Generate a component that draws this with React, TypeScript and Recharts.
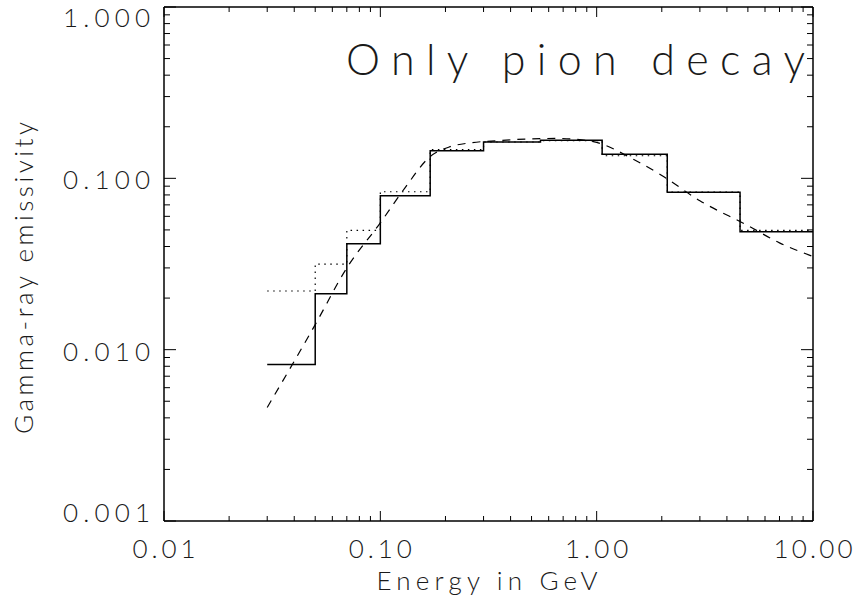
import React from "react";
import { LineChart, Line, XAxis, YAxis } from "recharts";

// bin edges in GeV (shared by both histograms)
const binEdges = [0.03, 0.05, 0.07, 0.1, 0.17, 0.3, 0.55, 1.06, 2.12, 4.6, 10];
// emissivity per bin
const solidValues = [0.0082, 0.0212, 0.0415, 0.079, 0.145, 0.163, 0.167, 0.138, 0.083, 0.0487];
const dottedValues = [0.022, 0.0316, 0.0497, 0.0835, 0.147, 0.163, 0.166, 0.1355, 0.0832, 0.0497];

// model curve (dashed)
const curveEnergy = [0.03, 0.05, 0.07, 0.1, 0.13, 0.17, 0.21, 0.26, 0.35, 0.5, 0.65, 0.8, 1.0, 1.5, 2.0, 3.0, 5.0, 7.0, 10];
const curveValues = [0.0046, 0.014, 0.03, 0.055, 0.088, 0.134, 0.153, 0.161, 0.166, 0.17, 0.171, 0.169, 0.162, 0.128, 0.104, 0.074, 0.053, 0.042, 0.035];

const xTicks = [
  0.01, 0.02, 0.03, 0.04, 0.05, 0.06, 0.07, 0.08, 0.09,
  0.1, 0.2, 0.3, 0.4, 0.5, 0.6, 0.7, 0.8, 0.9,
  1, 2, 3, 4, 5, 6, 7, 8, 9, 10,
];
const xMajor = [0.01, 0.1, 1, 10];
const xLabels = ["0.01", "0.10", "1.00", "10.00"];

const yTicks = [
  0.001, 0.002, 0.003, 0.004, 0.005, 0.006, 0.007, 0.008, 0.009,
  0.01, 0.02, 0.03, 0.04, 0.05, 0.06, 0.07, 0.08, 0.09,
  0.1, 0.2, 0.3, 0.4, 0.5, 0.6, 0.7, 0.8, 0.9, 1,
];
const yMajor = [0.001, 0.01, 0.1, 1];
const yLabels = ["0.001", "0.010", "0.100", "1.000"];

const toSteps = (edges: number[], vals: number[]) =>
  edges.map((x, i) => ({ x, y: vals[Math.min(i, vals.length - 1)] }));

const solidData = toSteps(binEdges, solidValues);
const dottedData = toSteps(binEdges, dottedValues);
const curveData = curveEnergy.map((x, i) => ({ x, y: curveValues[i] }));

const FONT = "Lato, 'Open Sans', sans-serif";
const WEIGHT = 300;
const INK = "#000";
const TEXT = "#1a1a1a";

const W = 859;
const H = 599;
const PLOT_TOP = 7;
const PLOT_BOTTOM = 521;

const BottomTick = (p: any) => {
  const i = xMajor.indexOf(p.payload.value);
  const len = i >= 0 ? 10 : 5;
  return (
    <g>
      <line x1={p.x} x2={p.x} y1={p.y} y2={p.y - len} stroke={INK} strokeWidth={1} />
      {i >= 0 && (
        <text
          x={p.x}
          y={p.y + 37}
          textAnchor="middle"
          fontFamily={FONT}
          fontWeight={WEIGHT}
          fontSize={26}
          fill={TEXT}
          textLength={xLabels[i].length * 15.8}
          lengthAdjust="spacing"
        >
          {xLabels[i]}
        </text>
      )}
    </g>
  );
};

const TopTick = (p: any) => {
  const len = xMajor.includes(p.payload.value) ? 10 : 5;
  return <line x1={p.x} x2={p.x} y1={p.y} y2={p.y + len} stroke={INK} strokeWidth={1} />;
};

const LeftTick = (p: any) => {
  const i = yMajor.indexOf(p.payload.value);
  const len = i >= 0 ? 12 : 6;
  const cy = Math.min(Math.max(p.y + 2, PLOT_TOP + 11), PLOT_BOTTOM - 8);
  return (
    <g>
      <line x1={p.x} x2={p.x + len} y1={p.y} y2={p.y} stroke={INK} strokeWidth={1} />
      {i >= 0 && (
        <text
          x={p.x - 14}
          y={cy + 9}
          textAnchor="end"
          fontFamily={FONT}
          fontWeight={WEIGHT}
          fontSize={26}
          fill={TEXT}
          textLength={87}
          lengthAdjust="spacing"
        >
          {yLabels[i]}
        </text>
      )}
    </g>
  );
};

const RightTick = (p: any) => {
  const len = yMajor.includes(p.payload.value) ? 12 : 6;
  return <line x1={p.x} x2={p.x - len} y1={p.y} y2={p.y} stroke={INK} strokeWidth={1} />;
};

export default function App() {
  return (
    <div style={{ position: "absolute", left: 0, top: 0, width: W, height: H, background: "#fff" }}>
      <LineChart width={W} height={H} margin={{ top: 0, right: 0, bottom: 0, left: 0 }}>
        <XAxis
          dataKey="x"
          type="number"
          scale="log"
          domain={[0.01, 10]}
          allowDataOverflow
          ticks={xTicks}
          interval={0}
          height={78}
          tickSize={0}
          tickMargin={0}
          tickLine={false}
          axisLine={{ stroke: INK, strokeWidth: 1.5 }}
          tick={<BottomTick />}
        />
        <XAxis
          xAxisId="top"
          orientation="top"
          dataKey="x"
          type="number"
          scale="log"
          domain={[0.01, 10]}
          allowDataOverflow
          ticks={xTicks}
          interval={0}
          height={PLOT_TOP}
          tickSize={0}
          tickMargin={0}
          tickLine={false}
          axisLine={{ stroke: INK, strokeWidth: 1.5 }}
          tick={<TopTick />}
        />
        <YAxis
          type="number"
          scale="log"
          domain={[0.001, 1]}
          allowDataOverflow
          ticks={yTicks}
          interval={0}
          width={164}
          tickSize={0}
          tickMargin={0}
          tickLine={false}
          axisLine={{ stroke: INK, strokeWidth: 1.5 }}
          tick={<LeftTick />}
        />
        <YAxis
          yAxisId="right"
          orientation="right"
          type="number"
          scale="log"
          domain={[0.001, 1]}
          allowDataOverflow
          ticks={yTicks}
          interval={0}
          width={46}
          tickSize={0}
          tickMargin={0}
          tickLine={false}
          axisLine={{ stroke: INK, strokeWidth: 1.5 }}
          tick={<RightTick />}
        />
        <Line
          data={dottedData}
          dataKey="y"
          type="stepAfter"
          stroke={INK}
          strokeWidth={1.2}
          strokeDasharray="1.5 4.5"
          dot={false}
          activeDot={false}
          isAnimationActive={false}
        />
        <Line
          data={solidData}
          dataKey="y"
          type="stepAfter"
          stroke={INK}
          strokeWidth={1.5}
          dot={false}
          activeDot={false}
          isAnimationActive={false}
        />
        <Line
          data={curveData}
          dataKey="y"
          type="monotone"
          stroke={INK}
          strokeWidth={1.2}
          strokeDasharray="8 7"
          dot={false}
          activeDot={false}
          isAnimationActive={false}
        />
      </LineChart>
      <svg
        width={W}
        height={H}
        style={{ position: "absolute", left: 0, top: 0, pointerEvents: "none" }}
      >
        <text
          x={805}
          y={75}
          textAnchor="end"
          fontFamily={FONT}
          fontWeight={WEIGHT}
          fontSize={43}
          fill={TEXT}
          textLength={459}
          lengthAdjust="spacing"
        >
          Only pion decay
        </text>
        <text
          x={487}
          y={590}
          textAnchor="middle"
          fontFamily={FONT}
          fontWeight={WEIGHT}
          fontSize={26}
          fill={TEXT}
          textLength={221}
          lengthAdjust="spacing"
        >
          Energy in GeV
        </text>
        <text
          transform="translate(33, 278) rotate(-90)"
          x={0}
          y={0}
          textAnchor="middle"
          fontFamily={FONT}
          fontWeight={WEIGHT}
          fontSize={26}
          fill={TEXT}
          textLength={312}
          lengthAdjust="spacing"
        >
          Gamma-ray emissivity
        </text>
      </svg>
    </div>
  );
}
